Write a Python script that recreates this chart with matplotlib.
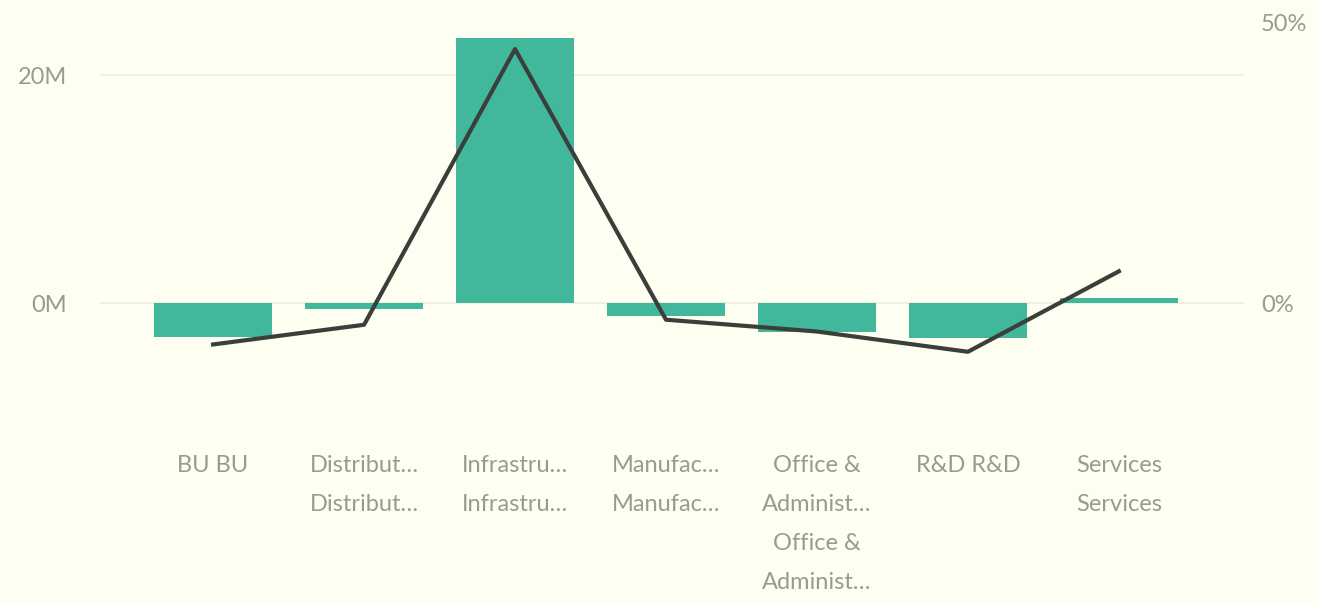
import numpy as np
import matplotlib.pyplot as plt

categories = ['BU BU', 'Distribut…\nDistribut…', 'Infrastru…\nInfrastru…',
              'Manufac…\nManufac…', 'Office &\nAdminist…\nOffice &\nAdminist…',
              'R&D R&D', 'Services\nServices']
bar_values = [-2.9, -0.5, 23.3, -1.1, -2.5, -3.0, 0.5]      # millions
line_values = [-7.3, -3.8, 45.2, -2.9, -5.0, -8.6, 5.7]     # percent

bg = '#fefff0'
teal = '#41b89c'
grey = '#9a9a94'

plt.rcParams['font.family'] = ['Lato', 'DejaVu Sans']

fig = plt.figure(figsize=(13.18, 6.03), dpi=100, facecolor=bg)
ax = fig.add_axes([0.076, 0.30, 0.868, 0.683])
ax.set_facecolor(bg)

x = np.arange(len(categories))
ax.bar(x, bar_values, width=0.78, color=teal, zorder=2)
ax.set_xlim(-0.748, 6.83)
ax.set_ylim(-10.4, 25.7)
ax.set_yticks([0, 20])
ax.set_yticklabels(['0M', '20M'])
ax.grid(axis='y', color='#ebebdf', linewidth=1.2, zorder=0)
ax.set_xticks(x)
ax.set_xticklabels(categories, linespacing=2.05, va='top')
ax.tick_params(axis='x', length=0, pad=24, labelsize=17, labelcolor=grey)
ax.tick_params(axis='y', length=0, pad=24, labelsize=17, labelcolor=grey)
for s in ax.spines.values():
    s.set_visible(False)

ax2 = ax.twinx()
ax2.plot(x, line_values, color='#3b3f3c', linewidth=3, zorder=3)
ax2.set_ylim(-21.1, 52.1)
ax2.set_yticks([0, 50])
ax2.set_yticklabels(['0%', '50%'])
ax2.tick_params(axis='y', length=0, pad=12, labelsize=17, labelcolor=grey)
for s in ax2.spines.values():
    s.set_visible(False)

fig.savefig('out.png', dpi=100, facecolor=bg)
